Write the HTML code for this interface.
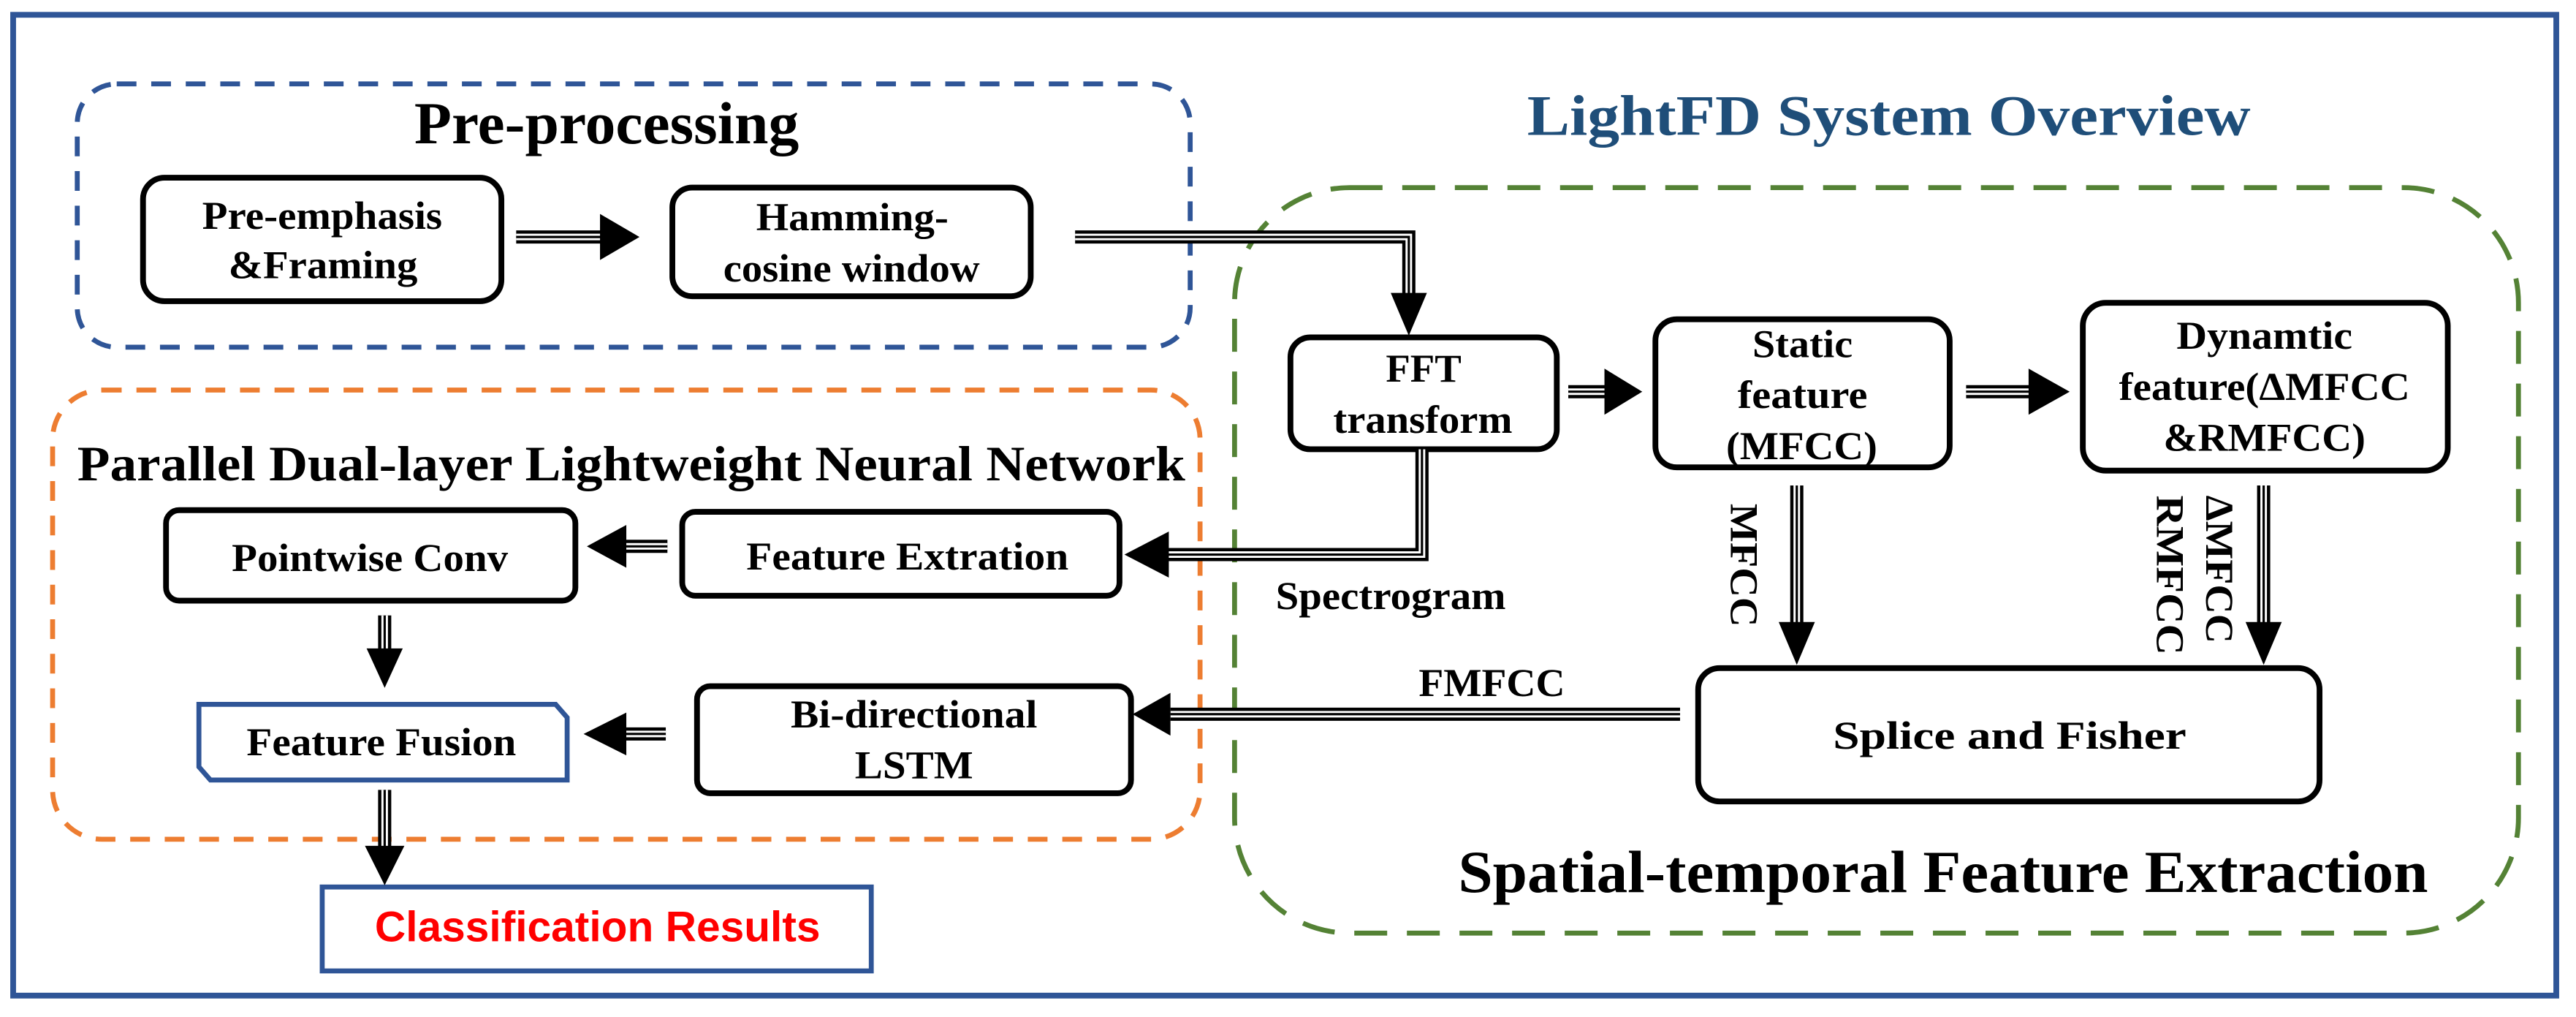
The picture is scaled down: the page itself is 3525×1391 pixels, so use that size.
<!DOCTYPE html>
<html><head><meta charset="utf-8"><style>
html,body{margin:0;padding:0;background:#fff;}
svg{display:block;}
text{font-family:"Liberation Serif",serif;font-weight:bold;fill:#000;}
</style></head><body>
<svg width="3525" height="1391" viewBox="0 0 1567 618" preserveAspectRatio="none" xmlns="http://www.w3.org/2000/svg">
<rect x="0" y="0" width="1567" height="618" fill="#fff"/>
<rect x="8" y="9" width="1547" height="596" fill="none" stroke="#2f5597" stroke-width="3.5"/>

<rect x="47" y="51" width="677" height="160" rx="24" fill="none" stroke="#2f5597" stroke-width="3" stroke-dasharray="12,9"/>
<rect x="32" y="237" width="698" height="273" rx="30" fill="none" stroke="#ed7d31" stroke-width="3" stroke-dasharray="12,9"/>
<rect x="751" y="114" width="781" height="453" rx="70" fill="none" stroke="#548235" stroke-width="3" stroke-dasharray="20,12"/>

<text x="252" y="87" font-size="36" textLength="234" lengthAdjust="spacingAndGlyphs">Pre-processing</text>
<text x="929" y="82" font-size="35" textLength="440" lengthAdjust="spacingAndGlyphs" style="fill:#1f4e79">LightFD  System  Overview</text>
<text x="47" y="292" font-size="30" textLength="674" lengthAdjust="spacingAndGlyphs">Parallel Dual-layer Lightweight Neural Network</text>
<text x="887" y="542" font-size="36" textLength="590" lengthAdjust="spacingAndGlyphs">Spatial-temporal Feature  Extraction</text>

<g fill="none" stroke="#000" stroke-width="3.5">
<rect x="87" y="108" width="218" height="75" rx="13"/>
<rect x="409" y="114" width="218" height="66" rx="12"/>
<rect x="785" y="205" width="162" height="68" rx="12"/>
<rect x="1007" y="194" width="179" height="90" rx="13"/>
<rect x="1267" y="184" width="222" height="102" rx="14"/>
<rect x="1033" y="406" width="378" height="81" rx="13"/>
<rect x="101" y="310" width="249" height="55" rx="8"/>
<rect x="415" y="311" width="266" height="51" rx="8"/>
<rect x="424" y="417" width="264" height="65" rx="8"/>
</g>
<path d="M121 428 H338 L345 436 V474 H128 L121 466 Z" fill="none" stroke="#2f5597" stroke-width="3"/>
<rect x="196" y="539" width="334" height="51" fill="none" stroke="#2f5597" stroke-width="3"/>

<g font-size="24">
<text x="123" y="139" textLength="146" lengthAdjust="spacingAndGlyphs">Pre-emphasis</text>
<text x="139" y="169" textLength="115" lengthAdjust="spacingAndGlyphs">&amp;Framing</text>
<text x="460" y="140" textLength="117" lengthAdjust="spacingAndGlyphs">Hamming-</text>
<text x="440" y="171" textLength="156" lengthAdjust="spacingAndGlyphs">cosine window</text>
<text x="843" y="232" textLength="46" lengthAdjust="spacingAndGlyphs">FFT</text>
<text x="811" y="263" textLength="109" lengthAdjust="spacingAndGlyphs">transform</text>
<text x="1066" y="217" textLength="61" lengthAdjust="spacingAndGlyphs">Static</text>
<text x="1057" y="248" textLength="79" lengthAdjust="spacingAndGlyphs">feature</text>
<text x="1050" y="279" textLength="92" lengthAdjust="spacingAndGlyphs">(MFCC)</text>
<text x="1324" y="212" textLength="107" lengthAdjust="spacingAndGlyphs">Dynamtic</text>
<text x="1289" y="243" textLength="177" lengthAdjust="spacingAndGlyphs">feature(ΔMFCC</text>
<text x="1316" y="274" textLength="123" lengthAdjust="spacingAndGlyphs">&amp;RMFCC)</text>
<text x="1115" y="455" textLength="215" lengthAdjust="spacingAndGlyphs">Splice   and   Fisher</text>
<text x="141" y="347" textLength="168" lengthAdjust="spacingAndGlyphs">Pointwise Conv</text>
<text x="454" y="346" textLength="196" lengthAdjust="spacingAndGlyphs">Feature Extration</text>
<text x="481" y="442" textLength="150" lengthAdjust="spacingAndGlyphs">Bi-directional</text>
<text x="520" y="473" textLength="72" lengthAdjust="spacingAndGlyphs">LSTM</text>
<text x="150" y="459" textLength="164" lengthAdjust="spacingAndGlyphs">Feature Fusion</text>
<text x="776" y="370" textLength="140" lengthAdjust="spacingAndGlyphs">Spectrogram</text>
<text x="863" y="423" textLength="89" lengthAdjust="spacingAndGlyphs">FMFCC</text>
<text transform="translate(1053,306) rotate(90)" textLength="75" lengthAdjust="spacingAndGlyphs">MFCC</text>
<text transform="translate(1342,301) rotate(90)" textLength="90" lengthAdjust="spacingAndGlyphs">ΔMFCC</text>
<text transform="translate(1312,301) rotate(90)" textLength="97" lengthAdjust="spacingAndGlyphs">RMFCC</text>
</g>
<text x="228" y="572" font-size="26" textLength="271" lengthAdjust="spacingAndGlyphs" style="font-family:'Liberation Sans',sans-serif;fill:#ff0000">Classification  Results</text>

<g fill="none" stroke-linejoin="miter">
<g id="L" stroke="#000" stroke-width="8">
<path d="M314 144 H367"/>
<path d="M654 144 H857 V180"/>
<path d="M954 238 H978"/>
<path d="M1196 238 H1236"/>
<path d="M1093 295 V380"/>
<path d="M1377 295 V380"/>
<path d="M1022 434 H712"/>
<path d="M865 273 V337 H709"/>
<path d="M406 332 H379"/>
<path d="M405 446 H379"/>
<path d="M234 374 V396"/>
<path d="M234 480 V516"/>
</g>
<g stroke="#fff" stroke-width="4">
<path d="M314 144 H367"/>
<path d="M654 144 H857 V180"/>
<path d="M954 238 H978"/>
<path d="M1196 238 H1236"/>
<path d="M1093 295 V380"/>
<path d="M1377 295 V380"/>
<path d="M1022 434 H712"/>
<path d="M865 273 V337 H709"/>
<path d="M406 332 H379"/>
<path d="M405 446 H379"/>
<path d="M234 374 V396"/>
<path d="M234 480 V516"/>
</g>
<g stroke="#000" stroke-width="1.4">
<path d="M314 144 H367"/>
<path d="M654 144 H857 V180"/>
<path d="M954 238 H978"/>
<path d="M1196 238 H1236"/>
<path d="M1093 295 V380"/>
<path d="M1377 295 V380"/>
<path d="M1022 434 H712"/>
<path d="M865 273 V337 H709"/>
<path d="M406 332 H379"/>
<path d="M405 446 H379"/>
<path d="M234 374 V396"/>
<path d="M234 480 V516"/>
</g>
</g>
<g fill="#000">
<polygon points="365,130 365,158 389,144"/>
<polygon points="846,178 868,178 857,204"/>
<polygon points="976,224 976,252 999,238"/>
<polygon points="1234,224 1234,252 1259,238"/>
<polygon points="1082,378 1104,378 1093,404"/>
<polygon points="1366,378 1388,378 1377,404"/>
<polygon points="712,421 712,447 689,434"/>
<polygon points="711,323 711,351 684,337"/>
<polygon points="381,319 381,345 357,332"/>
<polygon points="381,433 381,459 355,446"/>
<polygon points="223,394 245,394 234,418"/>
<polygon points="222,514 246,514 234,538"/>
</g>
</svg>
</body></html>
